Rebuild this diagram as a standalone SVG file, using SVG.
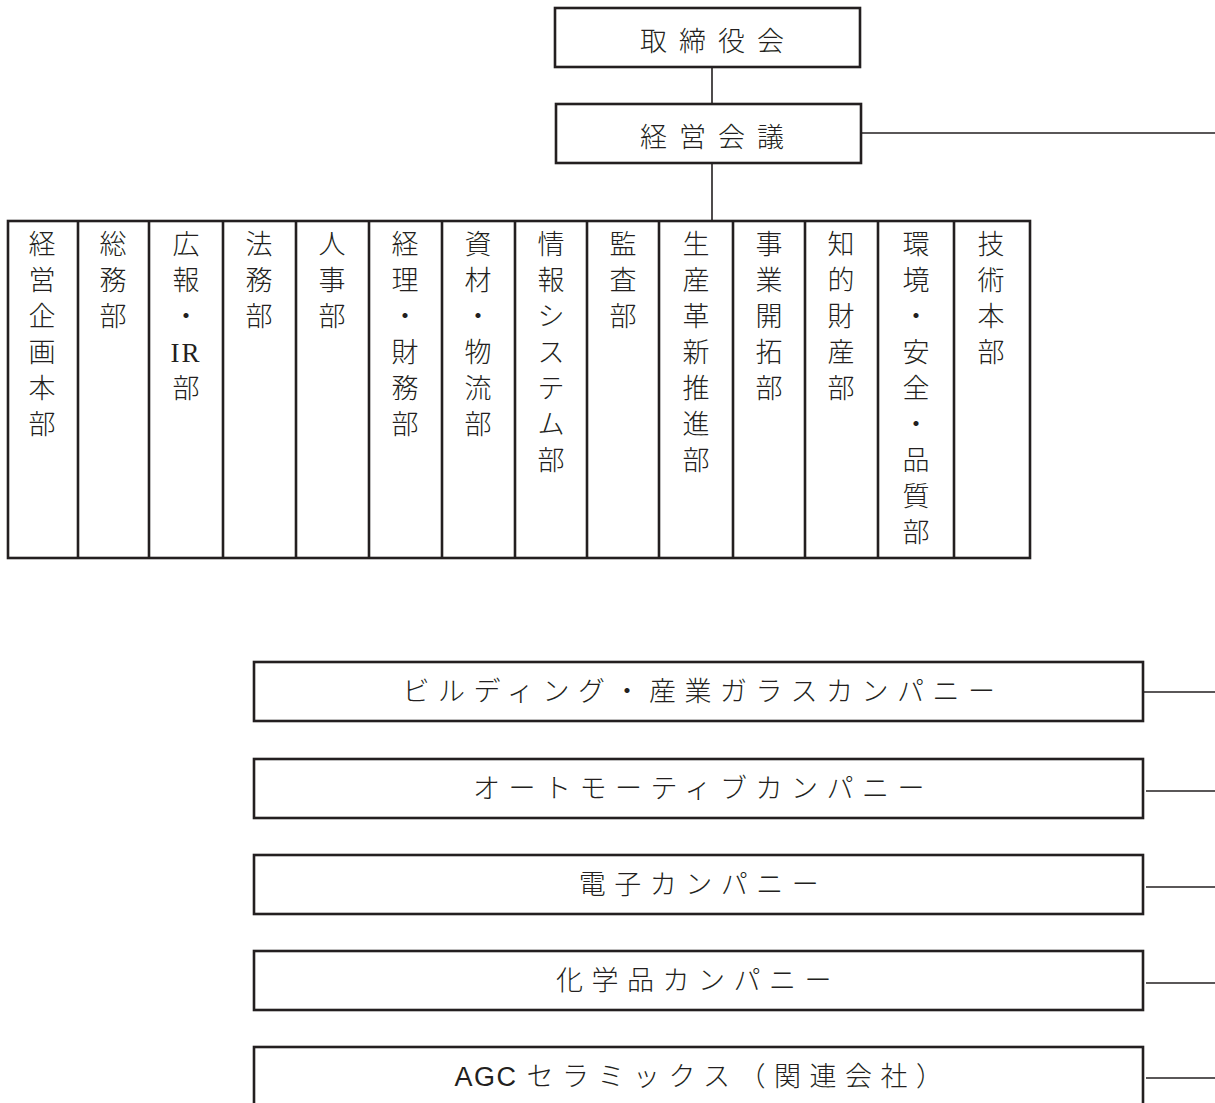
<svg xmlns="http://www.w3.org/2000/svg" width="1215" height="1103" viewBox="0 0 1215 1103">
<style>
.box{fill:#fff;stroke:#231f20;stroke-width:2.6}
.ln{fill:none;stroke:#231f20;stroke-width:1.6}
.t{font-family:"Noto Sans CJK JP","Noto Sans CJK SC",sans-serif;font-weight:300;fill:#231f20}
.v{font-size:27px;text-anchor:middle}
.h{font-size:27px;letter-spacing:12px;text-anchor:middle}
.c{font-size:27px;letter-spacing:8.5px;text-anchor:middle}
.lat{font-family:"Liberation Serif",serif;font-weight:400}
.agc{font-family:"Liberation Sans Narrow","Liberation Sans",sans-serif;font-weight:400;letter-spacing:1.5px}
</style>
<rect width="1215" height="1103" fill="#fff"/>
<g id="connectors">
<line class="ln" x1="712" y1="67" x2="712" y2="104"/>
<line class="ln" x1="712" y1="163" x2="712" y2="221"/>
<line class="ln" x1="861" y1="133" x2="1215" y2="133"/>
<line class="ln" x1="1143" y1="692" x2="1215" y2="692"/>
<line class="ln" x1="1146" y1="791" x2="1215" y2="791"/>
<line class="ln" x1="1146" y1="887" x2="1215" y2="887"/>
<line class="ln" x1="1146" y1="983" x2="1215" y2="983"/>
<line class="ln" x1="1146" y1="1078" x2="1215" y2="1078"/>
</g>
<g id="board">
<rect class="box" x="555" y="8" width="305" height="59"/>
<text class="t h" x="718" y="51">取締役会</text>
</g>
<g id="mgmt">
<rect class="box" x="556" y="104" width="305" height="59"/>
<text class="t h" x="718" y="147">経営会議</text>
</g>
<g id="departments">
<rect class="box" x="8" y="221" width="1022" height="337"/>
<line class="box" x1="78" y1="221" x2="78" y2="558"/>
<line class="box" x1="149" y1="221" x2="149" y2="558"/>
<line class="box" x1="223" y1="221" x2="223" y2="558"/>
<line class="box" x1="296" y1="221" x2="296" y2="558"/>
<line class="box" x1="369" y1="221" x2="369" y2="558"/>
<line class="box" x1="442" y1="221" x2="442" y2="558"/>
<line class="box" x1="515" y1="221" x2="515" y2="558"/>
<line class="box" x1="587" y1="221" x2="587" y2="558"/>
<line class="box" x1="659" y1="221" x2="659" y2="558"/>
<line class="box" x1="733" y1="221" x2="733" y2="558"/>
<line class="box" x1="805" y1="221" x2="805" y2="558"/>
<line class="box" x1="878" y1="221" x2="878" y2="558"/>
<line class="box" x1="954" y1="221" x2="954" y2="558"/>
</g>
<g id="d01"><text class="t v"><tspan x="42" y="254">経</tspan><tspan x="42" dy="36">営</tspan><tspan x="42" dy="36">企</tspan><tspan x="42" dy="36">画</tspan><tspan x="42" dy="36">本</tspan><tspan x="42" dy="36">部</tspan></text></g>
<g id="d02"><text class="t v"><tspan x="113" y="254">総</tspan><tspan x="113" dy="36">務</tspan><tspan x="113" dy="36">部</tspan></text></g>
<g id="d03"><text class="t v"><tspan x="186" y="254">広</tspan><tspan x="186" dy="36">報</tspan><tspan x="186" dy="36">・</tspan><tspan x="186" dy="36" class="lat" style="letter-spacing:2px">IR</tspan><tspan x="186" dy="36">部</tspan></text></g>
<g id="d04"><text class="t v"><tspan x="259" y="254">法</tspan><tspan x="259" dy="36">務</tspan><tspan x="259" dy="36">部</tspan></text></g>
<g id="d05"><text class="t v"><tspan x="332" y="254">人</tspan><tspan x="332" dy="36">事</tspan><tspan x="332" dy="36">部</tspan></text></g>
<g id="d06"><text class="t v"><tspan x="405" y="254">経</tspan><tspan x="405" dy="36">理</tspan><tspan x="405" dy="36">・</tspan><tspan x="405" dy="36">財</tspan><tspan x="405" dy="36">務</tspan><tspan x="405" dy="36">部</tspan></text></g>
<g id="d07"><text class="t v"><tspan x="478" y="254">資</tspan><tspan x="478" dy="36">材</tspan><tspan x="478" dy="36">・</tspan><tspan x="478" dy="36">物</tspan><tspan x="478" dy="36">流</tspan><tspan x="478" dy="36">部</tspan></text></g>
<g id="d08"><text class="t v"><tspan x="551" y="254">情</tspan><tspan x="551" dy="36">報</tspan><tspan x="551" dy="36">シ</tspan><tspan x="551" dy="36">ス</tspan><tspan x="551" dy="36">テ</tspan><tspan x="551" dy="36">ム</tspan><tspan x="551" dy="36">部</tspan></text></g>
<g id="d09"><text class="t v"><tspan x="623" y="254">監</tspan><tspan x="623" dy="36">査</tspan><tspan x="623" dy="36">部</tspan></text></g>
<g id="d10"><text class="t v"><tspan x="696" y="254">生</tspan><tspan x="696" dy="36">産</tspan><tspan x="696" dy="36">革</tspan><tspan x="696" dy="36">新</tspan><tspan x="696" dy="36">推</tspan><tspan x="696" dy="36">進</tspan><tspan x="696" dy="36">部</tspan></text></g>
<g id="d11"><text class="t v"><tspan x="769" y="254">事</tspan><tspan x="769" dy="36">業</tspan><tspan x="769" dy="36">開</tspan><tspan x="769" dy="36">拓</tspan><tspan x="769" dy="36">部</tspan></text></g>
<g id="d12"><text class="t v"><tspan x="841" y="254">知</tspan><tspan x="841" dy="36">的</tspan><tspan x="841" dy="36">財</tspan><tspan x="841" dy="36">産</tspan><tspan x="841" dy="36">部</tspan></text></g>
<g id="d13"><text class="t v"><tspan x="916" y="254">環</tspan><tspan x="916" dy="36">境</tspan><tspan x="916" dy="36">・</tspan><tspan x="916" dy="36">安</tspan><tspan x="916" dy="36">全</tspan><tspan x="916" dy="36">・</tspan><tspan x="916" dy="36">品</tspan><tspan x="916" dy="36">質</tspan><tspan x="916" dy="36">部</tspan></text></g>
<g id="d14"><text class="t v"><tspan x="991" y="254">技</tspan><tspan x="991" dy="36">術</tspan><tspan x="991" dy="36">本</tspan><tspan x="991" dy="36">部</tspan></text></g>
<g id="co1">
<rect class="box" x="254" y="662" width="889" height="59"/>
<text class="t c" x="703" y="701">ビルディング・産業ガラスカンパニー</text>
</g>
<g id="co2">
<rect class="box" x="254" y="759" width="889" height="59"/>
<text class="t c" x="703" y="798">オートモーティブカンパニー</text>
</g>
<g id="co3">
<rect class="box" x="254" y="855" width="889" height="59"/>
<text class="t c" x="703" y="894">電子カンパニー</text>
</g>
<g id="co4">
<rect class="box" x="254" y="951" width="889" height="59"/>
<text class="t c" x="698" y="990">化学品カンパニー</text>
</g>
<g id="co5">
<rect class="box" x="254" y="1047" width="889" height="70"/>
<text class="t c" x="703" y="1086"><tspan class="agc">AGC </tspan>セラミックス（関連会社）</text>
</g>
</svg>
